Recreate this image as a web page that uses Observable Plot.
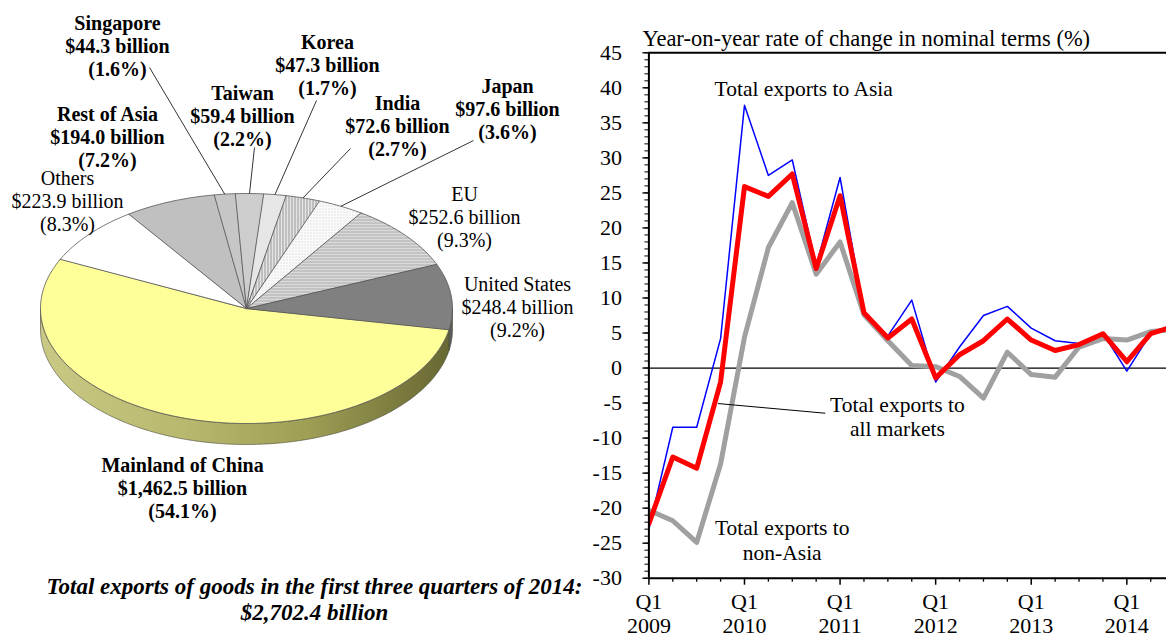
<!DOCTYPE html>
<html><head><meta charset="utf-8">
<script src="https://cdn.jsdelivr.net/npm/d3@7"></script>
<script src="https://cdn.jsdelivr.net/npm/@observablehq/plot@0.6"></script>
<style>
html,body{margin:0;padding:0;background:#fff;overflow:hidden;}
#wrap{position:relative;width:1166px;height:639px;}
#pie{position:absolute;left:0;top:0;}
#line{position:absolute;left:580px;top:0;}
#wrap svg{overflow:visible;max-width:none;}
</style></head>
<body><div id="wrap"><div id="pie"></div><div id="line"></div></div>
<script>
// ---------------- DATA ----------------
const markets = ["Mainland of China","Others","Rest of Asia","Singapore","Taiwan","Korea","India","Japan","EU","United States"];
const exportsBn = [1462.5, 223.9, 194.0, 44.3, 59.4, 47.3, 72.6, 97.6, 252.6, 248.4];
const sharePct = [54.1, 8.3, 7.2, 1.6, 2.2, 1.7, 2.7, 3.6, 9.3, 9.2];
const totalBn = 2702.4;

const quarters = ["2009 Q1","2009 Q2","2009 Q3","2009 Q4","2010 Q1","2010 Q2","2010 Q3","2010 Q4",
  "2011 Q1","2011 Q2","2011 Q3","2011 Q4","2012 Q1","2012 Q2","2012 Q3","2012 Q4",
  "2013 Q1","2013 Q2","2013 Q3","2013 Q4","2014 Q1","2014 Q2","2014 Q3"];
const asia = [-23.0, -8.45, -8.45, 4.2, 37.5, 27.5, 29.7, 14.6, 27.2, 8.0, 4.6, 9.7, -2.0, 3.0, 7.5, 8.8, 5.7, 3.9, 3.5, 5.0, -0.45, 4.9, 5.9];
const allMarkets = [-22.2, -12.7, -14.3, -2.0, 25.9, 24.5, 27.7, 14.2, 24.6, 7.9, 4.3, 7.0, -1.4, 1.9, 3.9, 7.0, 4.0, 2.5, 3.35, 4.9, 0.9, 4.9, 6.0];
const nonAsia = [-20.3, -21.8, -24.9, -13.7, 4.4, 17.2, 23.6, 13.4, 18.0, 7.6, 3.9, 0.35, 0.2, -1.2, -4.3, 2.26, -0.93, -1.3, 3.0, 4.2, 4.0, 5.2, 5.5];
const yTicks = [-30,-25,-20,-15,-10,-5,0,5,10,15,20,25,30,35,40,45];
const xTickYears = [2009, 2010, 2011, 2012, 2013, 2014];

// ---------------- STYLE / LAYOUT ----------------
const FONT = '"Liberation Serif","Times New Roman",serif';
const sliceFill = {"Mainland of China":"#FFFF99","Others":"#FFFFFF","Rest of Asia":"#C0C0C0","Singapore":"#C6C6C6",
  "Taiwan":"#CDCDCD","Korea":"#E6E6E6","India":"url(#hatchV)","Japan":"url(#dots)","EU":"url(#hatchH)","United States":"#808080"};
const sideFill = {"Mainland of China":"url(#sideGrad)","United States":"#5C5C5C"};
const boldMarkets = new Set(["Mainland of China","Rest of Asia","Singapore","Taiwan","Korea","India","Japan"]);
const labelPos = {"Mainland of China":[182,487],"Others":[67,200],"Rest of Asia":[107,136],"Singapore":[117,45],
  "Taiwan":[242,115],"Korea":[327,64],"India":[397,125],"Japan":[507,108],"EU":[464,216],"United States":[517,306]};
const leaderFrom = {"Singapore":[149,67],"Taiwan":[254,147],"Korea":[316,100],"India":[350,148],"Japan":[473,140]};
const geo = {cx:246, cy:308, rx:206, ry:115, depth:21, start:10.5};

// ---------------- PIE ----------------
const total = d3.sum(exportsBn);
let acc = geo.start;
const slices = markets.map((m, i) => {
  const a0 = acc, a1 = acc + exportsBn[i] / total * 360; acc = a1;
  return {name: m, value: exportsBn[i], pct: sharePct[i], a0, a1};
});
const pt = (deg, dy = 0) => { const r = deg * Math.PI / 180; return [geo.cx + geo.rx * Math.cos(r), geo.cy + geo.ry * Math.sin(r) + dy]; };
const arcPts = (a0, a1, dy = 0) => { const n = Math.max(2, Math.ceil(a1 - a0)); return d3.range(n + 1).map(k => pt(a0 + (a1 - a0) * k / n, dy)); };

const topPts = slices.flatMap(s => [[geo.cx, geo.cy], ...arcPts(s.a0, s.a1)].map(([x, y]) => ({key: s.name, x, y, fill: sliceFill[s.name]})));
const sidePts = [];
slices.forEach(s => {
  [0, 360].forEach(off => {
    const lo = Math.max(s.a0, off), hi = Math.min(s.a1, off + 180);
    if (hi > lo) {
      const poly = [...arcPts(lo, hi), ...arcPts(lo, hi, geo.depth).reverse()];
      poly.forEach(([x, y]) => sidePts.push({key: s.name + off, x, y, fill: sideFill[s.name] || "#888"}));
    }
  });
});
const fmt = d3.format(",.1f");
const labels = slices.map(s => ({name: s.name, bold: boldMarkets.has(s.name),
  x: labelPos[s.name][0], y: labelPos[s.name][1],
  text: `${s.name}\n$${fmt(s.value)} billion\n(${s.pct.toFixed(1)}%)`}));
const leaders = slices.filter(s => leaderFrom[s.name]).map(s => {
  const [x2, y2] = pt((s.a0 + s.a1) / 2);
  return {x1: leaderFrom[s.name][0], y1: leaderFrom[s.name][1], x2, y2};
});
const caption = [`Total exports of goods in the first three quarters of 2014:\n$${fmt(totalBn)} billion`];

const pie = Plot.plot({
  width: 590, height: 639, margin: 0,
  x: {domain: [0, 590], range: [0, 590], axis: null},
  y: {domain: [0, 639], range: [0, 639], axis: null},
  color: {type: "identity"},
  style: {fontFamily: FONT, fontSize: "20px", color: "black", background: "transparent", overflow: "visible"},
  marks: [
    Plot.line(sidePts, {x: "x", y: "y", z: "key", fill: "fill", stroke: "#4a4a3a", strokeWidth: 0.6, curve: "linear-closed"}),
    Plot.line(topPts, {x: "x", y: "y", z: "key", fill: "fill", stroke: "#555", strokeWidth: 0.8, curve: "linear-closed", strokeLinejoin: "round"}),
    Plot.link(leaders, {x1: "x1", y1: "y1", x2: "x2", y2: "y2", stroke: "black", strokeWidth: 0.8}),
    Plot.text(labels.filter(d => d.bold), {x: "x", y: "y", text: "text", fontWeight: "bold", lineHeight: 1.15, lineAnchor: "middle", fill: "black"}),
    Plot.text(labels.filter(d => !d.bold), {x: "x", y: "y", text: "text", lineHeight: 1.15, lineAnchor: "middle", fill: "black"}),
    Plot.text(caption, {x: () => 314, y: () => 598, text: d => d, fontWeight: "bold", fontStyle: "italic", fontSize: 23, lineHeight: 1.16, lineAnchor: "middle", fill: "black"})
  ]
});
// patterns & gradient
const defs = d3.select(pie).insert("defs", ":first-child");
const pv = defs.append("pattern").attr("id", "hatchV").attr("width", 3).attr("height", 3).attr("patternUnits", "userSpaceOnUse");
pv.append("rect").attr("width", 3).attr("height", 3).attr("fill", "#E4E4E4");
pv.append("rect").attr("width", 1).attr("height", 3).attr("fill", "#9A9A9A");
const ph = defs.append("pattern").attr("id", "hatchH").attr("width", 3).attr("height", 3).attr("patternUnits", "userSpaceOnUse");
ph.append("rect").attr("width", 3).attr("height", 3).attr("fill", "#DADADA");
ph.append("rect").attr("width", 3).attr("height", 1).attr("fill", "#ABABAB");
const pd = defs.append("pattern").attr("id", "dots").attr("width", 3).attr("height", 3).attr("patternUnits", "userSpaceOnUse");
pd.append("rect").attr("width", 3).attr("height", 3).attr("fill", "#FAFAFA");
pd.append("rect").attr("x", 1).attr("y", 1).attr("width", 1).attr("height", 1).attr("fill", "#CFCFCF");
const lg = defs.append("linearGradient").attr("id", "sideGrad").attr("gradientUnits", "userSpaceOnUse")
  .attr("x1", geo.cx - geo.rx).attr("x2", geo.cx + geo.rx).attr("y1", 0).attr("y2", 0);
[[0, "#C9C985"], [0.35, "#B8B86E"], [0.65, "#9E9E55"], [1, "#666632"]].forEach(([o, c]) =>
  lg.append("stop").attr("offset", o).attr("stop-color", c));
document.getElementById("pie").append(pie);

// ---------------- LINE CHART ----------------
const toT = s => { const [y, q] = s.split(" Q"); return +y + (+q - 1) / 4; };
const rowsOf = vals => quarters.map((q, i) => ({t: toT(q), v: vals[i]}));
const xEnd = 2014.415;
const minorX = quarters.map(toT).filter(t => t % 1 !== 0 && t < xEnd);
const annot = [
  {x: 2010.62, y: 39.9, text: "Total exports to Asia"},
  {x: 2011.6, y: -6.85, text: "Total exports to\nall markets"},
  {x: 2010.395, y: -24.5, text: "Total exports to\nnon-Asia"}
];
const annotLeader = [{x1: 2009.723, y1: -5.07, x2: 2010.845, y2: -6.45}];

const line = Plot.plot({
  width: 586, height: 639,
  marginLeft: 68.4, marginTop: 52.3, marginBottom: 61.3, marginRight: 0,
  x: {domain: [2009, xEnd], label: null},
  y: {domain: [-30, 45], label: null},
  style: {fontFamily: FONT, fontSize: "22px", color: "black", background: "transparent", overflow: "visible"},
  marks: [
    Plot.ruleY([0], {stroke: "black", strokeWidth: 1.2}),
    Plot.line(rowsOf(nonAsia), {x: "t", y: "v", stroke: "#A0A0A0", strokeWidth: 5, clip: true}),
    Plot.line(rowsOf(asia), {x: "t", y: "v", stroke: "#0000FF", strokeWidth: 1.5, clip: true}),
    Plot.line(rowsOf(allMarkets), {x: "t", y: "v", stroke: "#FF0000", strokeWidth: 5, clip: true}),
    Plot.ruleX([2009], {stroke: "black", strokeWidth: 2}),
    Plot.ruleY([-30], {stroke: "black", strokeWidth: 2}),
    Plot.ruleY([45], {stroke: "black", strokeWidth: 2}),
    Plot.axisY(d3.range(-30, 46, 1), {tickSize: 4, tickFormat: () => "", label: null, stroke: "black"}),
    Plot.axisY(yTicks, {tickSize: 6, tickPadding: 21, tickFormat: d => String(d), label: null, stroke: "black", fill: "black", strokeWidth: 1.3}),
    Plot.axisX(minorX, {tickSize: 4, tickFormat: () => "", label: null, stroke: "black", strokeWidth: 1.3}),
    Plot.axisX(xTickYears, {tickSize: 7, tickPadding: 6, tickFormat: d => `Q1\n${d}`, lineHeight: 1.12, label: null, stroke: "black", fill: "black", strokeWidth: 1.5}),
    Plot.link(annotLeader, {x1: "x1", y1: "y1", x2: "x2", y2: "y2", stroke: "black", strokeWidth: 1}),
    Plot.text(annot, {x: "x", y: "y", text: "text", lineHeight: 1.14, lineAnchor: "middle", fill: "black", fontSize: 21.5}),
    Plot.text(["Year-on-year rate of change in nominal terms (%)"], {frameAnchor: "top-left", dx: -6.5, dy: -14, textAnchor: "start", lineAnchor: "middle", fill: "black", fontSize: 22.5})
  ]
});
document.getElementById("line").append(line);
</script></body></html>
